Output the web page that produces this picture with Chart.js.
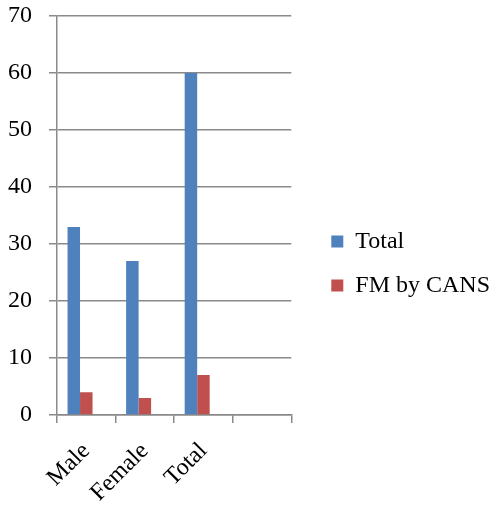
<!DOCTYPE html>
<html>
<head>
<meta charset="utf-8">
<script src="https://cdn.jsdelivr.net/npm/chart.js@4/dist/chart.umd.min.js"></script>
<style>
  html, body { margin: 0; padding: 0; background: #ffffff; }
  #wrap { width: 497px; height: 505px; position: relative; }
</style>
</head>
<body>
<div id="wrap"><canvas id="chart"></canvas></div>
<script>
// Groups along the x axis (the last slot is left empty)
const categories = ['Male', 'Female', 'Total', ''];
// Series values
const totalValues = [33, 27, 60, null];
const fmByCansValues = [4, 3, 7, null];
// Third data column of the sheet, which has no entries
const emptySeries = [null, null, null, null];
// Value axis
const yTicks = [0, 10, 20, 30, 40, 50, 60, 70];

const FONT = { family: '"Liberation Serif", "Times New Roman", serif', size: 24 };
const GRID = '#8a8a8a';

new Chart(document.getElementById('chart'), {
  type: 'bar',
  data: {
    labels: categories,
    datasets: [
      { label: 'Total', data: totalValues, backgroundColor: '#4F81BD' },
      { label: 'FM by CANS', data: fmByCansValues, backgroundColor: '#C0504D' },
      { label: '', data: emptySeries, backgroundColor: '#9BBB59' }
    ]
  },
  options: {
    responsive: true,
    maintainAspectRatio: false,
    animation: false,
    datasets: { bar: { categoryPercentage: 0.64, barPercentage: 1.0 } },
    layout: { padding: { top: 16, right: -3, bottom: -6, left: 0 } },
    scales: {
      x: {
        offset: true,
        grid: { offset: true, drawOnChartArea: false, drawTicks: true, tickLength: 8, color: GRID, lineWidth: 1.5 },
        border: { color: GRID, width: 1.5 },
        ticks: { color: '#000', font: FONT, minRotation: 45, maxRotation: 45, padding: 14, autoSkip: false },
        afterFit: (s) => { s.height = 96; }
      },
      y: {
        min: yTicks[0],
        max: yTicks[yTicks.length - 1],
        afterBuildTicks: (s) => { s.ticks = yTicks.map(v => ({ value: v })); },
        grid: { color: GRID, lineWidth: 1.5, tickLength: 8 },
        border: { color: GRID, width: 1.5 },
        ticks: { color: '#000', font: FONT, padding: 17 },
        afterFit: (s) => { s.width = 57; s.paddingTop = 0; }
      },
      gap: {
        position: 'right',
        display: true,
        grid: { display: false },
        border: { display: false },
        ticks: { display: false },
        afterFit: (s) => { s.width = 20; }
      }
    },
    plugins: {
      legend: {
        position: 'right',
        maxWidth: 240,
        labels: {
          color: '#000',
          font: FONT,
          boxWidth: 12,
          boxHeight: 12,
          padding: 20,
          filter: (item) => item.text !== ''
        }
      },
      tooltip: { enabled: false }
    }
  }
});
</script>
</body>
</html>
